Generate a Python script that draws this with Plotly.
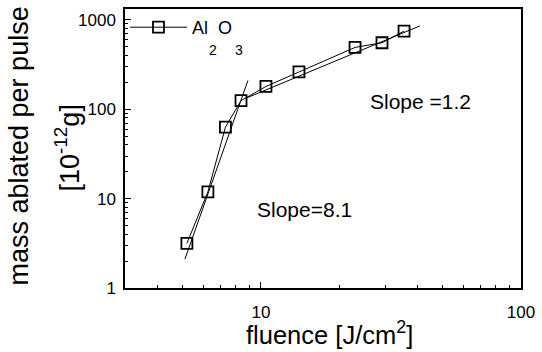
import math
import plotly.graph_objects as go

# Data
fluence = [5.19, 6.25, 7.30, 8.38, 10.45, 14.0, 23.0, 29.2, 35.5]
mass = [3.16, 11.9, 63, 125, 180, 262, 492, 555, 749]

fit_steep_x = [5.10, 8.91]
fit_steep_y = [2.10, 210]
fit_flat_x = [8.81, 40.9]
fit_flat_y = [134, 858]

x_ticks = [10, 100]
x_ticktext = ["10", "100"]
y_ticks = [1, 10, 100, 1000]
y_ticktext = ["1", "10", "100", "1000"]
x_minor = [3, 4, 5, 6, 7, 8, 9, 20, 30, 40, 50, 60, 70, 80, 90]
y_minor = [m * 10 ** d for d in range(0, 4) for m in range(2, 10)]

FONT = "Liberation Sans, Arial, sans-serif"

fig = go.Figure()
fig.add_trace(go.Scatter(
    x=fit_steep_x, y=fit_steep_y, mode="lines",
    line=dict(color="black", width=1), showlegend=False, hoverinfo="skip"))
fig.add_trace(go.Scatter(
    x=fit_flat_x, y=fit_flat_y, mode="lines",
    line=dict(color="black", width=1), showlegend=False, hoverinfo="skip"))
fig.add_trace(go.Scatter(
    x=fluence, y=mass, mode="lines+markers", name="Al\u00a0\u00a0O",
    line=dict(color="black", width=1),
    marker=dict(symbol="square-open", size=11, color="black",
                line=dict(color="black", width=1.8))))

axis_common = dict(
    showline=True, linecolor="black", linewidth=1.5, mirror=True,
    ticks="inside", ticklen=6, tickwidth=1.2, tickcolor="black",
    showgrid=False, zeroline=False,
    tickfont=dict(family=FONT, size=17, color="black"),
)

fig.update_xaxes(
    type="log", range=[math.log10(3), 2],
    tickmode="array", tickvals=x_ticks, ticktext=x_ticktext,
    ticklabelstandoff=8,
    minor=dict(ticks="inside", ticklen=3, tickwidth=1, tickcolor="black",
               tickvals=x_minor, showgrid=False),
    **axis_common)
fig.update_yaxes(
    type="log", range=[0, 3.122],
    tickmode="array", tickvals=y_ticks, ticktext=y_ticktext,
    ticklabelstandoff=4,
    minor=dict(ticks="inside", ticklen=3, tickwidth=1, tickcolor="black",
               tickvals=y_minor, showgrid=False),
    **axis_common)

ann = []
ann.append(dict(text="mass ablated per pulse", textangle=-90, xref="paper", yref="paper",
                x=0, y=0.5, xshift=-107, yshift=2, xanchor="center", yanchor="middle",
                showarrow=False, font=dict(family=FONT, size=27, color="black")))
ann.append(dict(text="[10<sup>-12</sup>g]", textangle=-90, xref="paper", yref="paper",
                x=0, y=0.5, xshift=-58, yshift=0, xanchor="center", yanchor="middle",
                showarrow=False, font=dict(family=FONT, size=27, color="black")))
ann.append(dict(text="fluence [J/cm<sup>2</sup>]", xref="paper", yref="paper",
                x=0.517, y=0, yshift=-45, xanchor="center", yanchor="middle",
                showarrow=False, font=dict(family=FONT, size=25.5, color="black")))
ann.append(dict(text="Slope =1.2", xref="paper", yref="paper",
                x=0.6127, y=0.669, xanchor="left", yanchor="middle",
                showarrow=False, font=dict(family=FONT, size=21, color="black")))
ann.append(dict(text="Slope=8.1", xref="paper", yref="paper",
                x=0.3278, y=0.283, xanchor="left", yanchor="middle",
                showarrow=False, font=dict(family=FONT, size=21, color="black")))
ann.append(dict(text="2", xref="paper", yref="paper",
                x=0.2232, y=0.854, xanchor="center", yanchor="middle",
                showarrow=False, font=dict(family=FONT, size=14, color="black")))
ann.append(dict(text="3", xref="paper", yref="paper",
                x=0.2887, y=0.854, xanchor="center", yanchor="middle",
                showarrow=False, font=dict(family=FONT, size=14, color="black")))

fig.update_layout(
    width=542, height=352,
    margin=dict(l=125, r=20, t=7, b=64),
    paper_bgcolor="white", plot_bgcolor="white",
    font=dict(family=FONT, color="black"),
    legend=dict(x=0, y=1, xanchor="left", yanchor="top",
                bgcolor="rgba(0,0,0,0)", font=dict(family=FONT, size=18, color="black"),
                itemwidth=57, tracegroupgap=0),
    annotations=ann,
)

fig.write_html("out.html")
